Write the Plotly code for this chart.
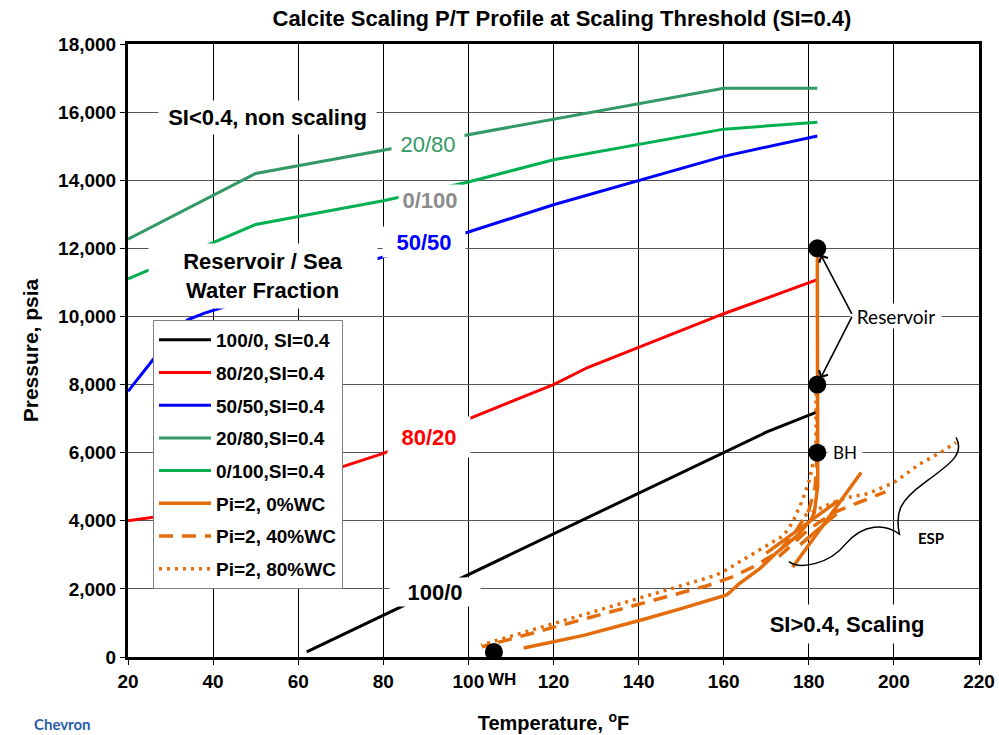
import plotly.graph_objects as go

# ---- Scaling-threshold curves (reservoir / sea water fraction), SI = 0.4 ----
t_100_0 = [62, 170, 182]
p_100_0 = [150, 6600, 7200]

t_80_20 = [20, 40, 80, 120, 128, 160, 182]
p_80_20 = [4000, 4350, 5980, 8000, 8500, 10080, 11080]

t_50_50 = [20, 26, 34, 38, 80, 100, 120, 140, 160, 182]
p_50_50 = [7800, 8750, 9900, 10100, 11750, 12480, 13280, 14000, 14700, 15300]

t_20_80 = [20, 50, 160, 182]
p_20_80 = [12270, 14200, 16700, 16700]

t_0_100 = [20, 50, 80, 100, 120, 160, 182]
p_0_100 = [11100, 12700, 13400, 13950, 14600, 15500, 15700]

# ---- Well P/T profiles, Pi=2 (None separates the ESP segments) ----
t_wc0 = [182, 182, 182, 182.1, 181.3, 180.6, 177.3, 172.5, 168.4, 163.6, 161.9, 160.7,
         149.8, 141.7, 127.1, 113, None, 176.2, 192.3, None, 170, 187, None, 178, 186.5]
p_wc0 = [12000, 8000, 6000, 5024, 4244, 4049, 3561, 3073, 2585, 2146, 1951, 1824,
         1415, 1122, 634, 263, None, 2634, 5415, None, 3050, 4600, None, 3300, 4200]

t_wc40 = [182, 182, 181.5, 180, 177, 173, 167, 162, 156.3, 140, 120, 103.2, None,
          173, 180, 186, 192, 198]
p_wc40 = [8000, 6000, 5000, 4300, 3700, 3100, 2650, 2350, 2100, 1545, 864, 300, None,
          2950, 3750, 4250, 4550, 4850]

t_wc80 = [181.7, 181.7, 181, 180.2, 178.6, 176.2, 174, 170, 164.4, 160.3, 158, 140, 120, 103,
          None, 179, 185, 189, 194, 200, 206, 211.5, 214.6]
p_wc80 = [8000, 6000, 5707, 5220, 4634, 3951, 3561, 3268, 2829, 2537, 2390, 1720, 979, 350,
          None, 4150, 4500, 4680, 4800, 5120, 5660, 6050, 6300]

# ---- Marked points: reservoir (2), bottom hole, well head ----
pt_t = [182, 182, 182, 106]
pt_p = [12000, 8000, 6000, 150]

FONT = "Liberation Sans, Arial, sans-serif"
CAL = "Lato, Noto Sans, sans-serif"
ORANGE = "#E46C0A"

# plot-area geometry in page pixels (used to place the few page-level labels)
L, R, T, B = 128, 20, 44, 78
W, H = 999, 735
PW, PH = W - L - R, H - T - B

fig = go.Figure()

series = [
    ("100/0, SI=0.4", t_100_0, p_100_0, "#000000", "solid", 3),
    ("80/20,SI=0.4", t_80_20, p_80_20, "#FF0000", "solid", 3),
    ("50/50,SI=0.4", t_50_50, p_50_50, "#0000FF", "solid", 3),
    ("20/80,SI=0.4", t_20_80, p_20_80, "#339966", "solid", 3),
    ("0/100,SI=0.4", t_0_100, p_0_100, "#00B050", "solid", 3),
    ("Pi=2, 0%WC", t_wc0, p_wc0, ORANGE, "solid", 3.5),
    ("Pi=2, 40%WC", t_wc40, p_wc40, ORANGE, "14px,9px", 3.5),
    ("Pi=2, 80%WC", t_wc80, p_wc80, ORANGE, "3px,5px", 3.5),
]
for i, (name, t, p, col, dash, w) in enumerate(series):
    fig.add_trace(go.Scatter(
        x=t, y=p, mode="lines", name=name, legendgroup=f"g{i}",
        line=dict(color=col, width=w, dash=dash), connectgaps=False,
    ))

fig.add_trace(go.Scatter(
    x=pt_t, y=pt_p, mode="markers", showlegend=False,
    marker=dict(color="black", size=18),
))

# Curly brace marking the ESP section
brace = ("M 214.6,6450 C 216.8,5950 213,5650 207,5100 "
         "C 201.5,4600 200.2,4250 201.3,3610 "
         "C 198,3900 193,3950 188.5,3300 "
         "C 185,2750 178,2550 175.3,2800")
fig.add_shape(type="path", path=brace, xref="x", yref="y",
              line=dict(color="black", width=1.5))

ann = []


def label(text, x, y, size, color="black", bold=True, family=FONT, w=None, h=None):
    d = dict(x=x, y=y, xref="x", yref="y", showarrow=False,
             text=f"<b>{text}</b>" if bold else text,
             font=dict(family=family, size=size, color=color),
             bgcolor="white", borderpad=0)
    if w:
        d["width"] = w
    if h:
        d["height"] = h
    ann.append(d)


label("SI&lt;0.4, non scaling", 52.7, 15850, 22, w=217, h=33)
label("20/80", 90.4, 15064, 22, color="#339966", bold=False, w=72, h=30)
label("0/100", 91.0, 13420, 22, color="#8C8C8C", w=62, h=30)
label("50/50", 89.6, 12180, 22, color="#0000FF", w=82, h=30)
label("Reservoir / Sea<br>Water Fraction", 51.8, 11180, 22, w=228, h=64)
label("80/20", 90.7, 6450, 22, color="#FF0000", w=82, h=40)
label("100/0", 92.2, 1915, 22, w=90, h=28)
label("SI&gt;0.4, Scaling", 189.0, 980, 22, w=176, h=38)
label("Reservoir", 200.6, 10000, 19, bold=False, family=CAL, w=90, h=24)
label("BH", 188.5, 6020, 17, bold=False, family=CAL, w=34, h=22)
label("ESP", 208.7, 3500, 15, bold=True, family=CAL, w=36, h=20)

# Arrows from the "Reservoir" label to the two reservoir points
for py in (12000, 8000):
    ann.append(dict(x=182, y=py, xref="x", yref="y", ax=190.3, ay=10030,
                    axref="x", ayref="y", text="", showarrow=True,
                    arrowhead=4, arrowsize=1.2, arrowwidth=1.6, arrowcolor="black",
                    standoff=7))


def page_label(text, px, py, size, family, color):
    ann.append(dict(x=(px - L) / PW, y=(H - B - py) / PH, xref="paper", yref="paper",
                    xanchor="center", yanchor="middle", text=text, showarrow=False,
                    font=dict(family=family, size=size, color=color)))


page_label("<b>WH</b>", 502, 679, 17, FONT, "black")
page_label("<b>Chevron</b>", 62, 724, 15, CAL, "#2A5CAA")

fig.update_layout(
    width=W, height=H,
    margin=dict(l=L, r=R, t=T, b=B),
    paper_bgcolor="white", plot_bgcolor="white",
    font=dict(family=FONT, color="black"),
    title=dict(text="<b>Calcite Scaling P/T Profile at Scaling Threshold (SI=0.4)</b>",
               x=0.5625, xanchor="center", y=0.975, yanchor="middle",
               font=dict(family=FONT, size=22, color="black")),
    xaxis=dict(range=[20, 220], dtick=20, tick0=20, showgrid=True, gridcolor="black",
               gridwidth=1, showline=True, linecolor="black", linewidth=3, mirror=True,
               ticks="outside", ticklen=5, tickcolor="black", zeroline=False,
               automargin=False,
               tickfont=dict(family=FONT, size=19, color="black", weight="bold"),
               title=dict(text="<b>Temperature, <sup>o</sup>F</b>", standoff=26,
                          font=dict(family=FONT, size=20, color="black"))),
    yaxis=dict(range=[0, 18000], dtick=2000, showgrid=True, gridcolor="#555555",
               gridwidth=1, showline=True, linecolor="black", linewidth=3, mirror=True,
               ticks="outside", ticklen=5, tickcolor="black", zeroline=False,
               tickformat=",d", automargin=False,
               tickfont=dict(family=FONT, size=19, color="black", weight="bold"),
               title=dict(text="<b>Pressure, psia</b>", standoff=14,
                          font=dict(family=FONT, size=21, color="black"))),
    legend=dict(x=0.0294, y=0.5498, xanchor="left", yanchor="top",
                bgcolor="white", bordercolor="#7F7F7F", borderwidth=1,
                font=dict(family=FONT, size=19, color="black", weight="bold"),
                itemwidth=52, tracegroupgap=5, traceorder="grouped"),
    annotations=ann,
    showlegend=True,
)

fig.write_html("out.html")
